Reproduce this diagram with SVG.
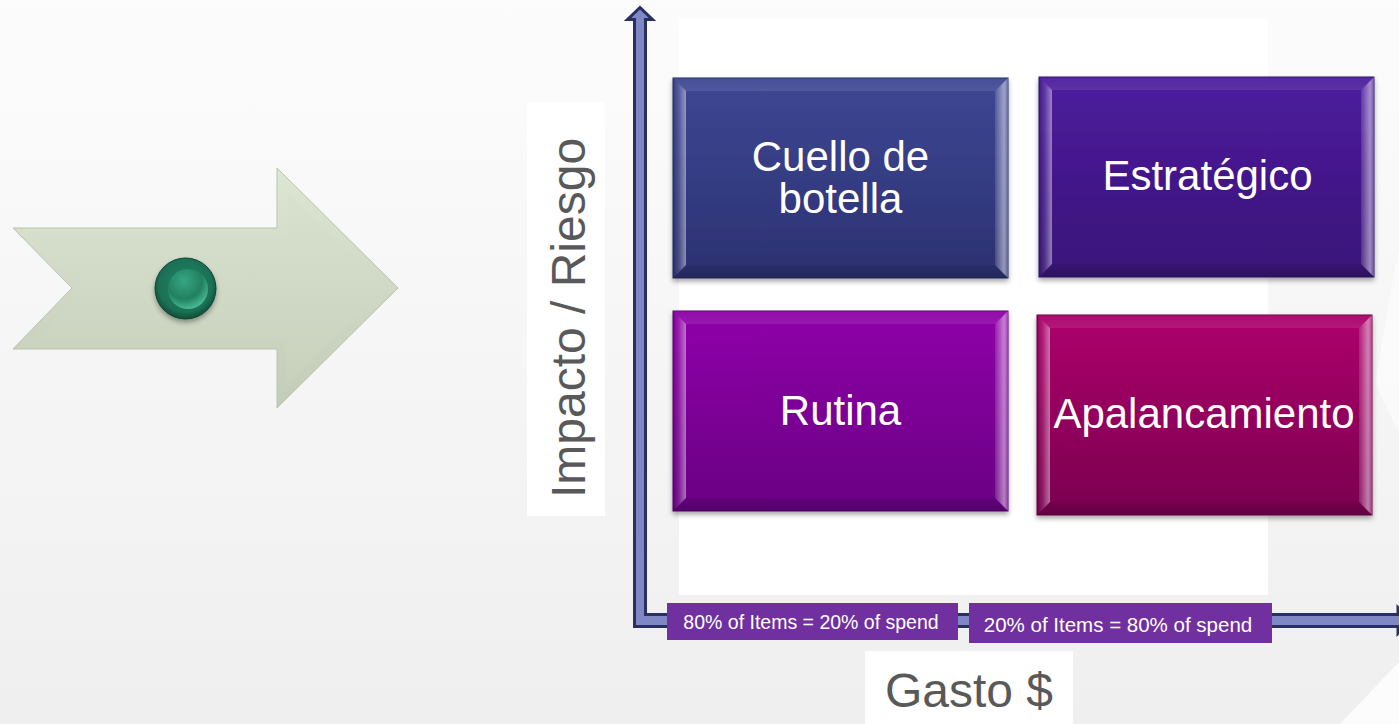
<svg xmlns="http://www.w3.org/2000/svg" xmlns:xlink="http://www.w3.org/1999/xlink" width="1399" height="724" viewBox="0 0 1399 724">
  <style>
    .bt { font-family: "Liberation Sans", Arial, sans-serif; font-size: 42px; fill: #ffffff; text-anchor: middle; }
    .ax { font-family: "Liberation Sans", Arial, sans-serif; font-size: 48px; fill: #595959; text-anchor: middle; }
    .lb { font-family: "Liberation Sans", Arial, sans-serif; fill: #ffffff; text-anchor: middle; }
    .lbr { fill: #7030a0; }
    .panel { fill: #ffffff; }
  </style>
  <defs>
    <linearGradient id="bg" x1="0" y1="0" x2="0" y2="1">
      <stop offset="0" stop-color="#fcfcfc"/>
      <stop offset="1" stop-color="#efefef"/>
    </linearGradient>
    <linearGradient id="g1" x1="0" y1="0" x2="0" y2="1">
      <stop offset="0" stop-color="#3e4794"/>
      <stop offset="1" stop-color="#2c3171"/>
    </linearGradient>
    <linearGradient id="g2" x1="0" y1="0" x2="0" y2="1">
      <stop offset="0" stop-color="#4d1c9e"/>
      <stop offset="1" stop-color="#391478"/>
    </linearGradient>
    <linearGradient id="g3" x1="0" y1="0" x2="0" y2="1">
      <stop offset="0" stop-color="#8f03a9"/>
      <stop offset="1" stop-color="#690683"/>
    </linearGradient>
    <linearGradient id="g4" x1="0" y1="0" x2="0" y2="1">
      <stop offset="0" stop-color="#ac056a"/>
      <stop offset="1" stop-color="#7a0050"/>
    </linearGradient>
    <linearGradient id="bvL" x1="0" y1="0" x2="1" y2="0">
      <stop offset="0" stop-color="#000000" stop-opacity="0.12"/>
      <stop offset="0.45" stop-color="#ffffff" stop-opacity="0.12"/>
      <stop offset="1" stop-color="#ffffff" stop-opacity="0.45"/>
    </linearGradient>
    <linearGradient id="bvR" x1="0" y1="0" x2="1" y2="0">
      <stop offset="0" stop-color="#ffffff" stop-opacity="0.12"/>
      <stop offset="0.7" stop-color="#ffffff" stop-opacity="0.5"/>
      <stop offset="1" stop-color="#ffffff" stop-opacity="0.25"/>
    </linearGradient>
    <linearGradient id="bvT" x1="0" y1="0" x2="0" y2="1">
      <stop offset="0" stop-color="#ffffff" stop-opacity="0.04"/>
      <stop offset="1" stop-color="#ffffff" stop-opacity="0.1"/>
    </linearGradient>
    <linearGradient id="bvB" x1="0" y1="0" x2="0" y2="1">
      <stop offset="0" stop-color="#000000" stop-opacity="0.08"/>
      <stop offset="1" stop-color="#000000" stop-opacity="0.2"/>
    </linearGradient>
    <linearGradient id="arrowFill" x1="0" y1="0" x2="0" y2="1">
      <stop offset="0" stop-color="#dde6d3"/>
      <stop offset="1" stop-color="#c2ccb7"/>
    </linearGradient>
    <linearGradient id="arrowInner" x1="0" y1="0" x2="0" y2="1">
      <stop offset="0" stop-color="#d7e0cd"/>
      <stop offset="1" stop-color="#c9d3be"/>
    </linearGradient>
    <radialGradient id="btnOuter" cx="0.5" cy="0.45" r="0.55">
      <stop offset="0" stop-color="#23896a"/>
      <stop offset="0.8" stop-color="#1a6f53"/>
      <stop offset="1" stop-color="#104b37"/>
    </radialGradient>
    <radialGradient id="btnInner" cx="0.4" cy="0.3" r="0.75">
      <stop offset="0" stop-color="#37a684"/>
      <stop offset="0.6" stop-color="#21805f"/>
      <stop offset="1" stop-color="#4fc39b"/>
    </radialGradient>
    <filter id="sh" x="-10%" y="-10%" width="120%" height="130%">
      <feDropShadow dx="0" dy="3" stdDeviation="2.5" flood-color="#000000" flood-opacity="0.35"/>
    </filter>
    <g id="bevel">
      <polygon points="0,0 13,13 13,187 0,200" fill="url(#bvL)"/>
      <polygon points="335,0 322,13 322,187 335,200" fill="url(#bvR)"/>
      <polygon points="0,0 335,0 322,13 13,13" fill="url(#bvT)"/>
      <polygon points="0,200 335,200 322,187 13,187" fill="url(#bvB)"/>
    </g>
  </defs>

  <!-- background -->
  <rect x="0" y="0" width="1399" height="724" fill="url(#bg)"/>
  <polygon points="1399,247 1375,383 1399,433" fill="#ffffff" opacity="0.5"/>
  <polygon points="1340,724 1399,662 1399,724" fill="#ffffff" opacity="0.8"/>

  <!-- panels -->
  <rect class="panel" x="679" y="19" width="589" height="576"/>
  <rect class="panel" x="527" y="102" width="78" height="414"/>
  <rect class="panel" x="865" y="651" width="208" height="73"/>

  <!-- left arrow -->
  <g id="input-arrow">
    <polygon points="13,228 277,228 277,168 398,288 277,408 277,349 13,349 72,288" fill="url(#arrowFill)" stroke="#b9c3ae" stroke-width="1"/>
    <polygon points="37,238 287,238 287,192 384,288 287,384 287,339 37,339 86,288" fill="url(#arrowInner)" opacity="0.6"/>
    <circle cx="185.5" cy="288.5" r="30.5" fill="url(#btnOuter)" stroke="#0d4633" stroke-width="1" filter="url(#sh)"/>
    <circle cx="188" cy="289" r="20" fill="url(#btnInner)"/>
  </g>

  <!-- axes -->
  <g id="connectors">
    <path d="M634.5,626.5 V19.5 H627.5 L640,7.5 L652.5,19.5 H645.5 V614.5 H1398 V607.5 L1412,620.5 L1398,633.5 V626.5 Z" fill="#7f87c4" stroke="#2a2f62" stroke-width="3" stroke-linejoin="miter"/>
  </g>

  <!-- axis titles -->
  <g id="y-axis-title">
    <text class="ax" transform="translate(585,318) rotate(-90)" x="0" y="0">Impacto / Riesgo</text>
  </g>
  <g id="x-axis-title">
    <text class="ax" x="969" y="707">Gasto $</text>
  </g>

  <!-- quadrant boxes -->
  <g id="cuello-de-botella" transform="translate(673,78)">
    <rect width="335" height="200" fill="url(#g1)" stroke="#262a5c" stroke-width="1" filter="url(#sh)"/>
    <use href="#bevel" xlink:href="#bevel"/>
    <text class="bt" x="167.5" y="93"><tspan x="167.5">Cuello de</tspan><tspan x="167.5" dy="42">botella</tspan></text>
  </g>
  <g id="estrategico" transform="translate(1039,77)">
    <rect width="335" height="200" fill="url(#g2)" stroke="#2f1065" stroke-width="1" filter="url(#sh)"/>
    <use href="#bevel" xlink:href="#bevel"/>
    <text class="bt" x="168.5" y="113">Estratégico</text>
  </g>
  <g id="rutina" transform="translate(673,311)">
    <rect width="335" height="200" fill="url(#g3)" stroke="#5a0670" stroke-width="1" filter="url(#sh)"/>
    <use href="#bevel" xlink:href="#bevel"/>
    <text class="bt" x="167.5" y="114">Rutina</text>
  </g>
  <g id="apalancamiento" transform="translate(1037,315)">
    <rect width="335" height="200" fill="url(#g4)" stroke="#660043" stroke-width="1" filter="url(#sh)"/>
    <use href="#bevel" xlink:href="#bevel"/>
    <text class="bt" x="167" y="113">Apalancamiento</text>
  </g>

  <!-- spend labels -->
  <g id="label-80-items">
    <rect class="lbr" x="667" y="603" width="291" height="37"/>
    <text class="lb" x="811" y="629" font-size="19.5">80% of Items = 20% of spend</text>
  </g>
  <g id="label-20-items">
    <rect class="lbr" x="969" y="603" width="303" height="40"/>
    <text class="lb" x="1118" y="632" font-size="20.5">20% of Items = 80% of spend</text>
  </g>
</svg>
